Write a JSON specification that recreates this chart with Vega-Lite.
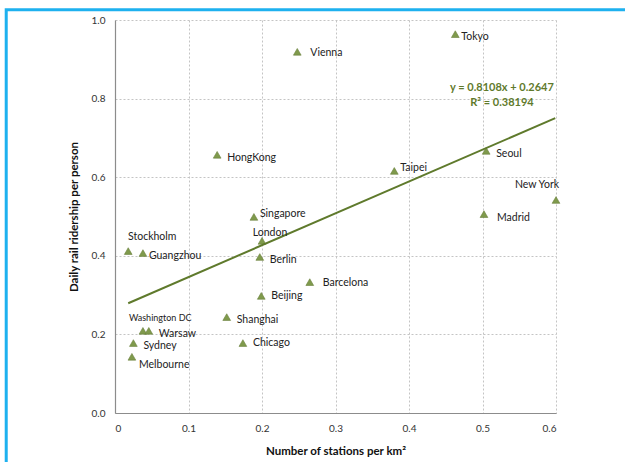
{
  "$schema": "https://vega.github.io/schema/vega-lite/v6.json",
  "width": 441,
  "height": 393,
  "autosize": {"type": "none"},
  "padding": {"left": 115, "top": 20, "right": 69, "bottom": 49},
  "background": "white",
  "config": {
    "font": "Lato",
    "view": {"stroke": null},
    "axis": {
      "grid": true,
      "gridColor": "#c4c4c4",
      "gridDash": [2, 2],
      "gridWidth": 1,
      "domainColor": "#8c8c8c",
      "domainWidth": 1.2,
      "tickSize": 0,
      "tickColor": "#8c8c8c",
      "labelOverlap": false,
      "labelColor": "#333333",
      "labelFontSize": 10,
      "labelFont": "Lato",
      "titleFont": "Lato",
      "titleFontSize": 11.5,
      "titleFontWeight": "bold",
      "titleColor": "#111111"
    }
  },
  "datasets": {
    "cities": [
      {"city": "Tokyo", "stations": 0.463, "ridership": 0.964},
      {"city": "Vienna", "stations": 0.248, "ridership": 0.919},
      {"city": "HongKong", "stations": 0.139, "ridership": 0.657},
      {"city": "Taipei", "stations": 0.38, "ridership": 0.616},
      {"city": "Seoul", "stations": 0.505, "ridership": 0.667},
      {"city": "New York", "stations": 0.6, "ridership": 0.542},
      {"city": "Madrid", "stations": 0.502, "ridership": 0.506},
      {"city": "Singapore", "stations": 0.189, "ridership": 0.499},
      {"city": "London", "stations": 0.2, "ridership": 0.438},
      {"city": "Stockholm", "stations": 0.018, "ridership": 0.412},
      {"city": "Guangzhou", "stations": 0.038, "ridership": 0.407},
      {"city": "Berlin", "stations": 0.197, "ridership": 0.397},
      {"city": "Barcelona", "stations": 0.265, "ridership": 0.333},
      {"city": "Beijing", "stations": 0.199, "ridership": 0.298},
      {"city": "Shanghai", "stations": 0.152, "ridership": 0.244},
      {"city": "Washington DC", "stations": 0.038, "ridership": 0.209},
      {"city": "Warsaw", "stations": 0.046, "ridership": 0.209},
      {"city": "Chicago", "stations": 0.174, "ridership": 0.178},
      {"city": "Sydney", "stations": 0.025, "ridership": 0.178},
      {"city": "Melbourne", "stations": 0.023, "ridership": 0.143}
    ],
    "trend": [
      {"stations": 0.018, "ridership": 0.2793},
      {"stations": 0.599, "ridership": 0.7504}
    ],
    "equation": [
      {"stations": 0.5265, "ridership": 0.827, "text": "y = 0.8108x + 0.2647"},
      {"stations": 0.5265, "ridership": 0.789, "text": "R² = 0.38194"}
    ]
  },
  "layer": [
    {
      "data": {"values": [{}]},
      "mark": {"type": "rect", "fill": null, "stroke": "#1eb1ef", "strokeWidth": 3, "clip": false},
      "encoding": {
        "x": {
          "datum": -0.148, "type": "quantitative",
          "scale": {"domain": [0, 0.6], "nice": false, "zero": true},
          "axis": {"values": [0, 0.1, 0.2, 0.3, 0.4, 0.5, 0.6], "format": "~g", "title": "Number of stations per km²", "labelPadding": 10, "titlePadding": 12}
        },
        "x2": {"datum": 0.8},
        "y": {
          "datum": 1.026, "type": "quantitative",
          "scale": {"domain": [0, 1], "nice": false},
          "axis": {"values": [0, 0.1, 0.2, 0.3, 0.4, 0.5, 0.6, 0.7, 0.8, 0.9, 1], "tickCount": 10, "labelOverlap": false, "format": ".1f", "title": "Daily rail ridership per person", "labelPadding": 10, "titlePadding": 12}
        },
        "y2": {"datum": -0.3}
      }
    },
    {
      "encoding": {
        "x": {
          "field": "stations", "type": "quantitative",
          "scale": {"domain": [0, 0.6], "nice": false, "zero": true},
          "axis": {"values": [0, 0.1, 0.2, 0.3, 0.4, 0.5, 0.6], "format": "~g", "title": "Number of stations per km²", "labelPadding": 10, "titlePadding": 12}
        },
        "y": {
          "field": "ridership", "type": "quantitative",
          "scale": {"domain": [0, 1], "nice": false},
          "axis": {"values": [0, 0.1, 0.2, 0.3, 0.4, 0.5, 0.6, 0.7, 0.8, 0.9, 1], "tickCount": 10, "labelOverlap": false, "format": ".1f", "title": "Daily rail ridership per person", "labelPadding": 10, "titlePadding": 12}
        }
      },
      "layer": [
        {
          "data": {"name": "cities"},
          "mark": {"type": "point", "shape": "triangle-up", "filled": true, "size": 60, "color": "#7f9a4c", "stroke": "#6a803c", "strokeWidth": 0.6, "opacity": 1}
        },
        {
          "data": {"name": "trend"},
          "mark": {"type": "line", "color": "#5f7a2c", "strokeWidth": 2}
        },
        {
          "data": {"name": "equation"},
          "mark": {"type": "text", "color": "#5f7a2c", "fontWeight": "bold", "fontSize": 11, "align": "center", "baseline": "middle"},
          "encoding": {"text": {"field": "text"}}
        },
        {
          "data": {"name": "cities"},
          "transform": [{"filter": {"field": "city", "oneOf": ["HongKong", "Seoul", "Berlin", "Shanghai", "Sydney", "Warsaw"]}}],
          "mark": {"type": "text", "align": "left", "baseline": "middle", "dx": 10, "dy": 3, "fontSize": 10.5, "color": "#222222"},
          "encoding": {"text": {"field": "city"}}
        },
        {
          "data": {"name": "cities"},
          "transform": [{"filter": {"field": "city", "oneOf": ["Beijing", "Chicago"]}}],
          "mark": {"type": "text", "align": "left", "baseline": "middle", "dx": 10, "dy": 0, "fontSize": 10.5, "color": "#222222"},
          "encoding": {"text": {"field": "city"}}
        },
        {
          "data": {"name": "cities"},
          "transform": [{"filter": {"field": "city", "oneOf": ["Vienna", "Barcelona"]}}],
          "mark": {"type": "text", "align": "left", "baseline": "middle", "dx": 13, "dy": 1, "fontSize": 10.5, "color": "#222222"},
          "encoding": {"text": {"field": "city"}}
        },
        {
          "data": {"name": "cities"},
          "transform": [{"filter": {"field": "city", "oneOf": ["Madrid"]}}],
          "mark": {"type": "text", "align": "left", "baseline": "middle", "dx": 13, "dy": 4, "fontSize": 10.5, "color": "#222222"},
          "encoding": {"text": {"field": "city"}}
        },
        {
          "data": {"name": "cities"},
          "transform": [{"filter": {"field": "city", "oneOf": ["Taipei", "Singapore"]}}],
          "mark": {"type": "text", "align": "left", "baseline": "middle", "dx": 6, "dy": -3, "fontSize": 10.5, "color": "#222222"},
          "encoding": {"text": {"field": "city"}}
        },
        {
          "data": {"name": "cities"},
          "transform": [{"filter": {"field": "city", "oneOf": ["Tokyo", "Guangzhou"]}}],
          "mark": {"type": "text", "align": "left", "baseline": "middle", "dx": 6, "dy": 3, "fontSize": 10.5, "color": "#222222"},
          "encoding": {"text": {"field": "city"}}
        },
        {
          "data": {"name": "cities"},
          "transform": [{"filter": {"field": "city", "oneOf": ["Melbourne"]}}],
          "mark": {"type": "text", "align": "left", "baseline": "middle", "dx": 7, "dy": 8, "fontSize": 10.5, "color": "#222222"},
          "encoding": {"text": {"field": "city"}}
        },
        {
          "data": {"name": "cities"},
          "transform": [{"filter": {"field": "city", "oneOf": ["New York"]}}],
          "mark": {"type": "text", "align": "center", "baseline": "middle", "dx": -19, "dy": -15, "fontSize": 10.5, "color": "#222222"},
          "encoding": {"text": {"field": "city"}}
        },
        {
          "data": {"name": "cities"},
          "transform": [{"filter": {"field": "city", "oneOf": ["London"]}}],
          "mark": {"type": "text", "align": "center", "baseline": "middle", "dx": 8, "dy": -8, "fontSize": 10.5, "color": "#222222"},
          "encoding": {"text": {"field": "city"}}
        },
        {
          "data": {"name": "cities"},
          "transform": [{"filter": {"field": "city", "oneOf": ["Stockholm"]}}],
          "mark": {"type": "text", "align": "center", "baseline": "middle", "dx": 24, "dy": -14, "fontSize": 10.5, "color": "#222222"},
          "encoding": {"text": {"field": "city"}}
        },
        {
          "data": {"name": "cities"},
          "transform": [{"filter": {"field": "city", "oneOf": ["Washington DC"]}}],
          "mark": {"type": "text", "align": "left", "baseline": "middle", "dx": -14, "dy": -13, "fontSize": 9, "color": "#222222"},
          "encoding": {"text": {"field": "city"}}
        }
      ]
    }
  ]
}
